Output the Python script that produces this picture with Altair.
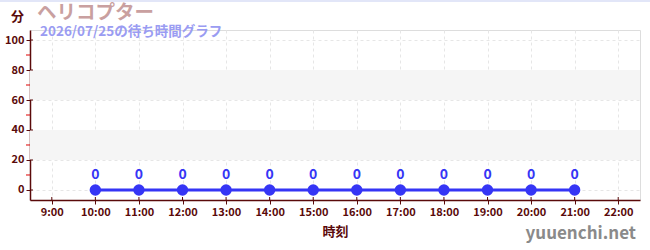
import altair as alt
import pandas as pd

hours = [10, 11, 12, 13, 14, 15, 16, 17, 18, 19, 20, 21]
waits = [0, 0, 0, 0, 0, 0, 0, 0, 0, 0, 0, 0]
x_ticks = [9, 10, 11, 12, 13, 14, 15, 16, 17, 18, 19, 20, 21, 22]
y_ticks = [0, 20, 40, 60, 80, 100]
y_minor = [10, 30, 50, 70, 90]
band_lo = [20, 60]
band_hi = [40, 80]
title = "ヘリコプター"
subtitle = "2026/07/25の待ち時間グラフ"
unit = "分"
x_title = "時刻"
watermark = "yuuenchi.net"

FONT = "Noto Sans CJK JP"
DARK = "#5a0a0a"
BLUE = "#3535f5"

df = pd.DataFrame({"h": hours, "w": waits})
bands = pd.DataFrame({"lo": band_lo, "hi": band_hi})
minor = pd.DataFrame({"v": y_minor})
ymaj = pd.DataFrame({"v": y_ticks})
xmaj = pd.DataFrame({"h": x_ticks})

xs = alt.Scale(domain=[8.5, 22.5], nice=False, zero=False)
ys = alt.Scale(domain=[-6.67, 106.67], nice=False, zero=False)

y_axis = alt.Axis(values=y_ticks, grid=True, gridDash=[3, 3],
                  gridColor="#e6e6e6", domainColor=DARK, domainWidth=1.5,
                  tickColor=DARK, tickSize=4, labelColor=DARK,
                  labelFont=FONT, labelFontSize=11, labelFontWeight="bold",
                  labelPadding=2, labelOverlap=False, labelFlush=False,
                  labelBound=False)
x_axis = alt.Axis(values=x_ticks, labelExpr="datum.value + ':00'",
                  grid=True, gridDash=[3, 3], gridColor="#e6e6e6",
                  domainColor=DARK, domainWidth=1.5, tickColor=DARK,
                  tickSize=4, labelColor=DARK, labelFont=FONT,
                  labelFontSize=11, labelFontWeight="bold", labelPadding=2,
                  labelOverlap=False, labelFlush=False,
                  titleFont=FONT, titleColor=DARK, titleFontSize=13,
                  titleFontWeight="bold", titlePadding=8)

X = lambda f="h": alt.X(f"{f}:Q", scale=xs, title=x_title, axis=x_axis)
Y = lambda f="w": alt.Y(f"{f}:Q", scale=ys, title=None, axis=y_axis)

band_layer = alt.Chart(bands).mark_rect(color="#f5f5f5").encode(
    y=Y("lo"), y2="hi:Q", x=alt.value(0), x2=alt.value(610))

base = alt.Chart(df)

grid_axes = base.mark_point(opacity=0).encode(x=X(), y=Y())

minor_ticks = alt.Chart(minor).mark_rule(color="#dd0000", strokeWidth=1).encode(
    y=Y("v"), x=alt.value(-4), x2=alt.value(0))
y_inner = alt.Chart(ymaj).mark_rule(color=DARK, strokeWidth=1).encode(
    y=Y("v"), x=alt.value(0), x2=alt.value(3))
x_inner = alt.Chart(xmaj).mark_rule(color=DARK, strokeWidth=1).encode(
    x=X("h"), y=alt.value(167), y2=alt.value(170))

line = base.mark_line(color=BLUE, strokeWidth=3).encode(x=X(), y=Y())
pts = base.mark_circle(color=BLUE, size=130, opacity=1).encode(x=X(), y=Y())
labels = base.mark_text(color=BLUE, font=FONT, fontSize=14, fontWeight="bold",
                        dy=-15).encode(x=X(), y=Y(), text="w:Q")

def txt(s, x, y, size, color, align="left", weight="bold"):
    return alt.Chart(pd.DataFrame({"t": [s]})).mark_text(
        font=FONT, fontSize=size, color=color, align=align, baseline="middle",
        fontWeight=weight).encode(x=alt.value(x), y=alt.value(y), text="t:N")

t_title = txt(title, 7, -17, 19.5, "#c9a0a0")
t_unit = txt(unit, -19, -13, 13, DARK)
t_sub = txt(subtitle, 10, 2, 13.5, "#9a9cf2")
t_wm = txt(watermark, 606, 204, 17, "#8a8a8a", align="right")

top_line = alt.Chart(pd.DataFrame({"a": [0]})).mark_rule(
    color="#e2e6f8", strokeWidth=2).encode(
    x=alt.value(-30), x2=alt.value(620), y=alt.value(-29))

chart = alt.layer(band_layer, grid_axes, minor_ticks, y_inner, x_inner, line,
                  pts, labels, t_title, t_unit, t_sub, t_wm, top_line).properties(
    width=610, height=170,
    autosize=alt.AutoSizeParams(type="none"),
    padding={"left": 30, "top": 30, "right": 10, "bottom": 50},
).configure_view(stroke=None).configure(background="white")

chart.save("out.html", embed_options={"renderer": "svg", "actions": False})
